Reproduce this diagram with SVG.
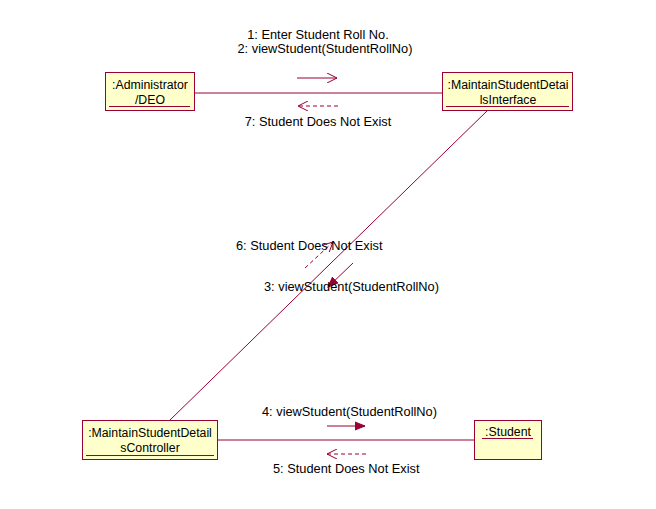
<svg xmlns="http://www.w3.org/2000/svg" width="656" height="509" viewBox="0 0 656 509">
  <style>
    .box { fill: #FFFFCB; stroke: #990033; stroke-width: 1; }
    .ul { stroke: #990033; stroke-width: 1; }
    .link { stroke: #990033; stroke-width: 1; fill: none; }
    .msg { stroke: #990033; stroke-width: 1; fill: none; }
    .ret { stroke: #990033; stroke-width: 1; fill: none; stroke-dasharray: 4 3; }
    text { font-family: "Liberation Sans", Arial, sans-serif; font-size: 12.8px; fill: #000; }
    .n { font-size: 12.3px; }
    .c { text-anchor: middle; }
  </style>
  <defs>
    <marker id="open" markerWidth="12" markerHeight="10" refX="10" refY="5" orient="auto" markerUnits="userSpaceOnUse">
      <path d="M0,0 L10,5 L0,10" fill="none" stroke="#990033" stroke-width="1"/>
    </marker>
    <marker id="filled" markerWidth="12" markerHeight="10" refX="10" refY="5" orient="auto" markerUnits="userSpaceOnUse">
      <path d="M0,1 L10,5 L0,9 Z" fill="#990033" stroke="#990033" stroke-width="1"/>
    </marker>
  </defs>

  <!-- links between objects -->
  <g id="connectors">
    <line class="link" x1="194" y1="93" x2="442" y2="93"/>
    <line class="link" x1="488" y1="110" x2="170" y2="420"/>
    <line class="link" x1="218" y1="440" x2="474" y2="440"/>

    <!-- messages 1,2 and reply 7 -->
    <line class="msg" x1="297" y1="78" x2="337" y2="78" marker-end="url(#open)"/>
    <line class="ret" x1="338" y1="106" x2="298" y2="106" marker-end="url(#open)"/>

    <!-- message 3 and reply 6 -->
    <line class="msg" x1="353" y1="263" x2="328" y2="287" marker-end="url(#filled)"/>
    <line class="ret" x1="305" y1="268" x2="333" y2="242" marker-end="url(#open)"/>

    <!-- message 4 and reply 5 -->
    <line class="msg" x1="327" y1="426" x2="365" y2="426" marker-end="url(#filled)"/>
    <line class="ret" x1="366" y1="454" x2="327" y2="454" marker-end="url(#open)"/>

    <text class="c" x="318" y="39">1: Enter Student Roll No.</text>
    <text class="c" x="325" y="53">2: viewStudent(StudentRollNo)</text>
    <text class="c" x="318" y="126">7: Student Does Not Exist</text>
    <text x="236" y="250">6: Student Does Not Exist</text>
    <text x="264" y="291">3: viewStudent(StudentRollNo)</text>
    <text x="262" y="416">4: viewStudent(StudentRollNo)</text>
    <text x="273" y="473">5: Student Does Not Exist</text>
  </g>

  <g id="administrator">
    <rect class="box" x="105.5" y="72.5" width="89" height="38"/>
    <line class="ul" x1="109" y1="106.5" x2="190" y2="106.5"/>
    <text class="c n" x="150" y="89">:Administrator</text>
    <text class="c n" x="150" y="104">/DEO</text>
  </g>

  <g id="interface">
    <rect class="box" x="442.5" y="72.5" width="130" height="38"/>
    <line class="ul" x1="446" y1="106.5" x2="569" y2="106.5"/>
    <text class="c n" x="508" y="89">:MaintainStudentDetai</text>
    <text class="c n" x="508" y="104">lsInterface</text>
  </g>

  <g id="controller">
    <rect class="box" x="82.5" y="420.5" width="135" height="39"/>
    <line class="ul" x1="86" y1="455.5" x2="214" y2="455.5"/>
    <text class="c n" x="150" y="437">:MaintainStudentDetail</text>
    <text class="c n" x="150" y="452">sController</text>
  </g>

  <g id="student">
    <rect class="box" x="474.5" y="420.5" width="67" height="39"/>
    <line class="ul" x1="482" y1="438.5" x2="533" y2="438.5"/>
    <text class="c n" x="508" y="436">:Student</text>
  </g>
</svg>
